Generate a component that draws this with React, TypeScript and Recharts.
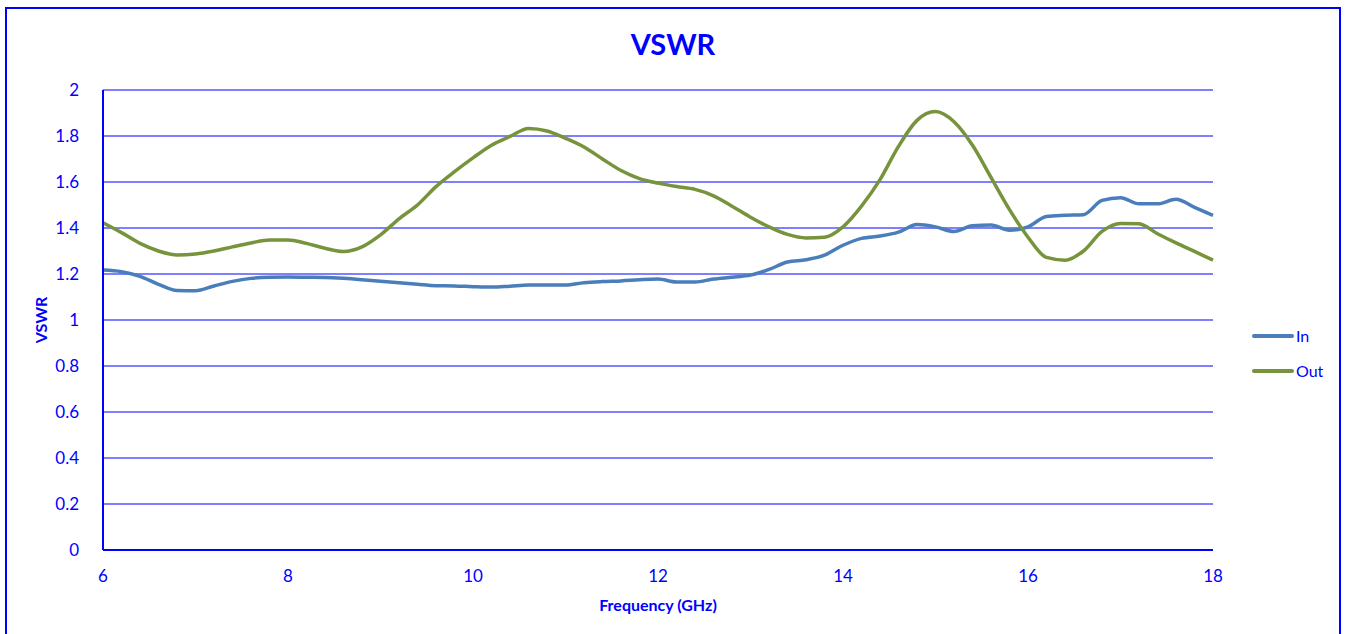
import React from "react";
import { LineChart, Line, XAxis, YAxis, CartesianGrid } from "recharts";

const freq = [
  6.0, 6.2, 6.4, 6.6, 6.8, 7.0, 7.2, 7.4, 7.6, 7.8, 8.0, 8.2, 8.4, 8.6, 8.8, 9.0, 9.2, 9.4, 9.6, 9.8,
  10.0, 10.2, 10.4, 10.6, 10.8, 11.0, 11.2, 11.4, 11.6, 11.8, 12.0, 12.2, 12.4, 12.6, 12.8, 13.0, 13.2, 13.4, 13.6, 13.8,
  14.0, 14.2, 14.4, 14.6, 14.8, 15.0, 15.2, 15.4, 15.6, 15.8, 16.0, 16.2, 16.4, 16.6, 16.8, 17.0, 17.2, 17.4, 17.6, 17.8, 18.0,
];

const vswrIn = [
  1.217, 1.21, 1.19, 1.155, 1.128, 1.127, 1.148, 1.168, 1.181, 1.186, 1.187, 1.186, 1.185, 1.181, 1.175, 1.168, 1.162, 1.155, 1.149, 1.148,
  1.145, 1.143, 1.147, 1.152, 1.152, 1.152, 1.162, 1.167, 1.17, 1.175, 1.178, 1.165, 1.165, 1.178, 1.186, 1.195, 1.22, 1.252, 1.262, 1.282,
  1.325, 1.355, 1.365, 1.382, 1.415, 1.405, 1.385, 1.41, 1.413, 1.39, 1.405, 1.45, 1.455, 1.458, 1.52, 1.532, 1.505, 1.505, 1.525, 1.49, 1.455,
];

const vswrOut = [
  1.423, 1.38, 1.333, 1.3, 1.283, 1.287, 1.3, 1.318, 1.335, 1.348, 1.348, 1.333, 1.312, 1.298, 1.318, 1.37, 1.44, 1.5, 1.58, 1.645,
  1.705, 1.76, 1.798, 1.833, 1.822, 1.79, 1.752, 1.7, 1.65, 1.615, 1.595, 1.58, 1.568, 1.54, 1.495, 1.447, 1.405, 1.372, 1.357, 1.36,
  1.405, 1.495, 1.61, 1.755, 1.868, 1.906, 1.862, 1.76, 1.62, 1.48, 1.36, 1.272, 1.26, 1.3, 1.385, 1.42, 1.418, 1.375, 1.335, 1.298, 1.26,
];

const xTicks = [6, 8, 10, 12, 14, 16, 18];
const yTicks = [0, 0.2, 0.4, 0.6, 0.8, 1, 1.2, 1.4, 1.6, 1.8, 2];

const seriesNames = ["In", "Out"];
const seriesColors = ["#4A7EBB", "#77933C"];

const data = freq.map((f, i) => ({ f, In: vswrIn[i], Out: vswrOut[i] }));

const BLUE = "#0000FF";
const FONT = "Lato, 'Open Sans', sans-serif";

export default function App() {
  return (
    <div style={{ position: "fixed", left: 0, top: 0, width: 1346, height: 634, background: "#fff", overflow: "hidden" }}>
      <div
        style={{
          position: "absolute",
          left: 5,
          top: 7,
          width: 1336,
          height: 650,
          border: `2px solid ${BLUE}`,
          boxSizing: "border-box",
        }}
      />
      <div
        style={{
          position: "absolute",
          left: 0,
          width: 1346,
          top: 26,
          textAlign: "center",
          fontFamily: FONT,
          fontWeight: 700,
          fontSize: 29,
          color: BLUE,
        }}
      >
        VSWR
      </div>
      <div style={{ position: "absolute", left: 1252, top: 318, fontFamily: FONT, fontSize: 16, color: BLUE }}>
        {seriesNames.map((n, i) => (
          <div key={n} style={{ display: "flex", alignItems: "center", height: 35 }}>
            <div style={{ width: 42, height: 4, borderRadius: 2, background: seriesColors[i], marginRight: 2 }} />
            <span>{n}</span>
          </div>
        ))}
      </div>
      <div style={{ position: "absolute", left: 0, top: 0 }}>
        <LineChart
          width={1346}
          height={634}
          data={data}
          margin={{ top: 90, right: 133, bottom: 54, left: 43 }}
        >
          <CartesianGrid
            vertical={false}
            horizontal={{ shapeRendering: "crispEdges" } as any}
            stroke={BLUE}
            strokeWidth={1}
          />
          <XAxis
            dataKey="f"
            type="number"
            domain={[6, 18]}
            ticks={xTicks}
            height={30}
            tickLine={false}
            axisLine={{ stroke: BLUE, strokeWidth: 2 }}
            tick={{ fill: BLUE, fontSize: 17, fontFamily: FONT }}
            tickMargin={14}
            label={{
              value: "Frequency (GHz)",
              position: "insideBottom",
              offset: -31,
              fill: BLUE,
              fontSize: 16,
              fontWeight: 700,
              fontFamily: FONT,
            }}
          />
          <YAxis
            type="number"
            domain={[0, 2]}
            ticks={yTicks}
            width={60}
            tickLine={false}
            axisLine={{ stroke: BLUE, strokeWidth: 2 }}
            tick={{ fill: BLUE, fontSize: 17, fontFamily: FONT }}
            tickMargin={18}
            tickFormatter={(v: number) => String(Math.round(v * 10) / 10)}
            label={{
              value: "VSWR",
              angle: -90,
              position: "insideLeft",
              offset: -2,
              fill: BLUE,
              fontSize: 16,
              fontWeight: 700,
              fontFamily: FONT,
              style: { textAnchor: "middle" },
            }}
          />
          {seriesNames.map((n, i) => (
            <Line
              key={n}
              dataKey={n}
              type="monotone"
              stroke={seriesColors[i]}
              strokeWidth={3.5}
              dot={false}
              isAnimationActive={false}
            />
          ))}
        </LineChart>
      </div>
    </div>
  );
}
